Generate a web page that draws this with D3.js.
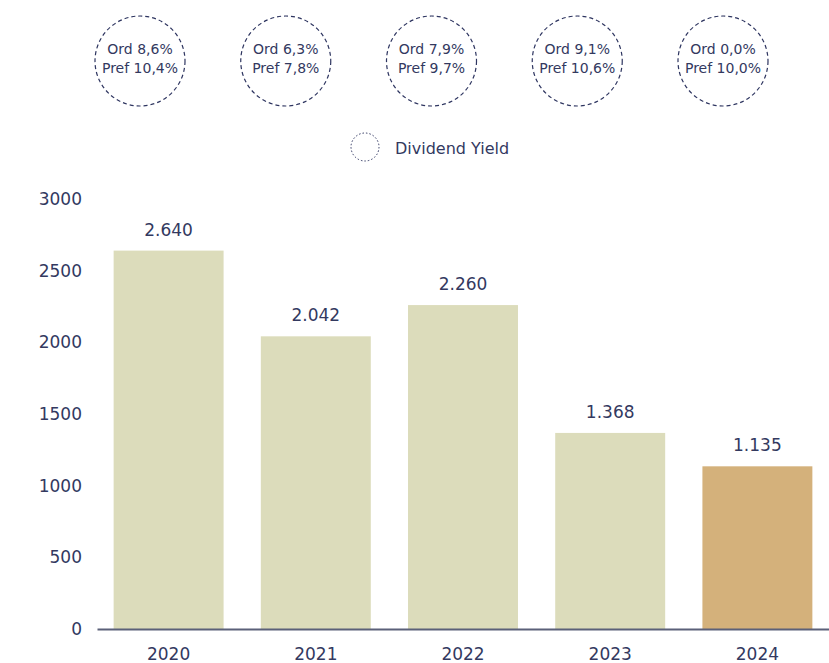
<!DOCTYPE html>
<html>
<head>
<meta charset="utf-8">
<script src="https://cdn.jsdelivr.net/npm/d3@7"></script>
<style>
  body { margin: 0; background: #fff; }
  svg text { font-family: "DejaVu Sans", sans-serif; fill: #33395f; }
</style>
</head>
<body>
<div id="chart"></div>
<script>
// data
var years = ['2020', '2021', '2022', '2023', '2024'];
var values = [2640, 2042, 2260, 1368, 1135];
var value_labels = ['2.640', '2.042', '2.260', '1.368', '1.135'];
var ord_yield = ['8,6%', '6,3%', '7,9%', '9,1%', '0,0%'];
var pref_yield = ['10,4%', '7,8%', '9,7%', '10,6%', '10,0%'];
var y_ticks = [0, 500, 1000, 1500, 2000, 2500, 3000];

var chart_width = 829;
var chart_height = 663;

var svg = d3.select('#chart')
  .append('svg')
  .attr('width', chart_width)
  .attr('height', chart_height);

// scales
var x_scale = d3.scaleBand()
  .domain(years)
  .range([97, 829])
  .paddingInner(0.253)
  .paddingOuter(0.113);

var y_scale = d3.scaleLinear()
  .domain([0, 3000])
  .range([629, 199]);

// circles sit a bit left of the bars
var circle_scale = d3.scalePoint()
  .domain(years)
  .range([140, 723]);

// y axis labels (no line)
svg.selectAll('.ytick')
  .data(y_ticks)
  .enter()
  .append('text')
  .attr('class', 'ytick')
  .attr('x', 82)
  .attr('y', function(d) { return y_scale(d); })
  .attr('dy', '0.35em')
  .attr('text-anchor', 'end')
  .attr('font-size', '17px')
  .text(function(d) { return d; });

// bars
svg.selectAll('rect')
  .data(values)
  .enter()
  .append('rect')
  .attr('x', function(d, i) { return x_scale(years[i]); })
  .attr('y', function(d) { return y_scale(d); })
  .attr('width', x_scale.bandwidth())
  .attr('height', function(d) { return y_scale(0) - y_scale(d); })
  .attr('fill', function(d, i) { return i === years.length - 1 ? '#d4b17b' : '#dcdcbb'; });

// value labels
svg.selectAll('.vlabel')
  .data(values)
  .enter()
  .append('text')
  .attr('class', 'vlabel')
  .attr('x', function(d, i) { return x_scale(years[i]) + x_scale.bandwidth() / 2; })
  .attr('y', function(d) { return y_scale(d) - 21; })
  .attr('dy', '0.35em')
  .attr('text-anchor', 'middle')
  .attr('font-size', '17px')
  .text(function(d, i) { return value_labels[i]; });

// x axis
var x_axis = d3.axisBottom(x_scale).tickSize(0).tickPadding(19);
var gx = svg.append('g')
  .attr('transform', 'translate(0,' + y_scale(0) + ')')
  .call(x_axis);
gx.select('.domain').attr('stroke', '#5b6079').attr('stroke-width', 2);
gx.selectAll('text')
  .attr('font-size', '17px')
  .style('font-family', '"DejaVu Sans", sans-serif')
  .attr('fill', '#33395f');

// dividend yield circles
var bubbles = svg.selectAll('.bubble')
  .data(years)
  .enter()
  .append('g')
  .attr('class', 'bubble')
  .attr('transform', function(d) { return 'translate(' + circle_scale(d) + ',61)'; });

bubbles.append('circle')
  .attr('r', 45)
  .attr('fill', 'none')
  .attr('stroke', '#2e3560')
  .attr('stroke-width', 1.2)
  .attr('stroke-dasharray', '4,3');

bubbles.append('text')
  .attr('y', -12)
  .attr('dy', '0.35em')
  .attr('text-anchor', 'middle')
  .attr('font-size', '14px')
  .text(function(d, i) { return 'Ord ' + ord_yield[i]; });

bubbles.append('text')
  .attr('y', 7)
  .attr('dy', '0.35em')
  .attr('text-anchor', 'middle')
  .attr('font-size', '14px')
  .text(function(d, i) { return 'Pref ' + pref_yield[i]; });

// legend
svg.append('circle')
  .attr('cx', 365)
  .attr('cy', 147)
  .attr('r', 14)
  .attr('fill', 'none')
  .attr('stroke', '#2e3560')
  .attr('stroke-width', 1)
  .attr('stroke-dasharray', '1.5,2');

svg.append('text')
  .attr('x', 395)
  .attr('y', 148)
  .attr('dy', '0.35em')
  .attr('font-size', '16px')
  .text('Dividend Yield');
</script>
</body>
</html>
